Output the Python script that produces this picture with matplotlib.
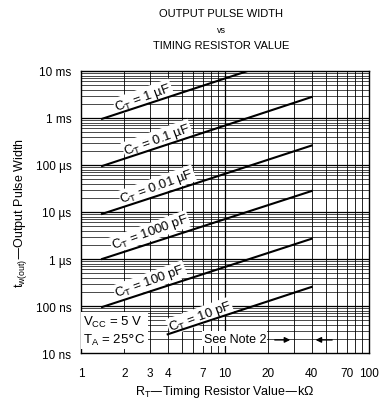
import numpy as np
import matplotlib
matplotlib.use("Agg")
import matplotlib.pyplot as plt
from matplotlib.ticker import FixedLocator, NullFormatter

plt.rcParams['font.family'] = ['Liberation Sans', 'DejaVu Sans']

# curve data: timing capacitor, start/end resistor (kOhm), start/end pulse width (s)
cap_labels = ['1 µF', '0.1 µF', '0.01 µF', '1000 pF', '100 pF', '10 pF']
r_start = [1.4, 1.4, 1.4, 1.4, 1.4, 4.0]
r_end = [40, 40, 40, 40, 40, 40]
tw_start = [0.96e-3, 95e-6, 9.1e-6, 1.0e-6, 95e-9, 25e-9]
tw_end = [28e-3, 2.8e-3, 260e-6, 28e-6, 2.7e-6, 255e-9]

# where the capacitor labels sit
label_r = [2.70, 3.37, 3.37, 3.01, 3.01, 6.7]
label_tw = [2.8e-3, 3.57e-4, 3.57e-5, 3.75e-6, 3.4e-7, 6.1e-8]

x_ticks = [1, 2, 3, 4, 7, 10, 20, 40, 70, 100]
y_ticks = [1e-8, 1e-7, 1e-6, 1e-5, 1e-4, 1e-3, 1e-2]
y_ticklabels = ['10 ns', '100 ns', '1 µs', '10 µs', '100 µs', '1 ms', '10 ms']

fig = plt.figure(figsize=(3.81, 4.02), dpi=100)
ax = fig.add_axes([0.2126, 0.1194, 0.7559, 0.7015])
ax.set_xscale('log')
ax.set_yscale('log')
ax.set_xlim(1, 100)
ax.set_ylim(1e-8, 1e-2)

# grid
minor_x = [m * 10 ** d for d in range(0, 2) for m in range(2, 10)]
minor_y = [m * 10.0 ** d for d in range(-8, -2) for m in range(2, 10)]
for xv in minor_x:
    ax.axvline(xv, color='black', lw=0.6, zorder=1)
for yv in minor_y:
    ax.axhline(yv, color='black', lw=0.5, zorder=1)
for xv in [10]:
    ax.axvline(xv, color='black', lw=0.9, zorder=1)
for yv in y_ticks[1:-1]:
    ax.axhline(yv, color='black', lw=0.9, zorder=1)

for i in range(len(cap_labels)):
    ax.plot([r_start[i], r_end[i]], [tw_start[i], tw_end[i]], color='black', lw=1.5, zorder=4)
    ax.text(label_r[i], label_tw[i], r'C$_\mathregular{T}$ = ' + cap_labels[i],
            fontsize=9.5, rotation=20, ha='center', va='center', zorder=3,
            bbox=dict(facecolor='white', edgecolor='none', pad=0.5))

ax.text(1.04, 3.0e-8, r'V$_\mathregular{CC}$ = 5 V' + '\n' + r'T$_\mathregular{A}$ = 25$\degree$C',
        fontsize=9.5, ha='left', va='center', linespacing=1.3, zorder=3,
        bbox=dict(facecolor='white', edgecolor='none', pad=1.5))

ax.text(11.7, 2.0e-8, 'See Note 2', fontsize=9, ha='center', va='center', zorder=3,
        bbox=dict(facecolor='white', edgecolor='none', pad=1.0))
ax.annotate('', xy=(29.7, 1.9e-8), xytext=(21.2, 1.9e-8), zorder=5,
            arrowprops=dict(arrowstyle='-|>', color='black', lw=1.0, mutation_scale=8))
ax.annotate('', xy=(40.7, 1.9e-8), xytext=(58, 1.9e-8), zorder=5,
            arrowprops=dict(arrowstyle='-|>', color='black', lw=1.0, mutation_scale=8))

ax.xaxis.set_major_locator(FixedLocator(x_ticks))
ax.set_xticklabels([str(v) for v in x_ticks])
ax.xaxis.set_minor_formatter(NullFormatter())
ax.yaxis.set_major_locator(FixedLocator(y_ticks))
ax.set_yticklabels(y_ticklabels)
ax.yaxis.set_minor_formatter(NullFormatter())
ax.tick_params(which='both', length=0, labelsize=8.5)
ax.tick_params(axis='x', pad=10)
ax.tick_params(axis='y', pad=7)
for s in ax.spines.values():
    s.set_linewidth(1.0)

ax.set_xlabel(r'R$_\mathregular{T}$—Timing Resistor Value—kΩ', fontsize=9, labelpad=3)
ax.set_ylabel(r't$_\mathregular{w(out)}$—Output Pulse Width', fontsize=9, labelpad=5)

fig.text(0.58, 0.965, 'OUTPUT PULSE WIDTH', fontsize=8, ha='center', va='center')
fig.text(0.58, 0.925, 'vs', fontsize=6.5, ha='center', va='center')
fig.text(0.58, 0.885, 'TIMING RESISTOR VALUE', fontsize=8, ha='center', va='center')

fig.savefig('out.png', dpi=100)
